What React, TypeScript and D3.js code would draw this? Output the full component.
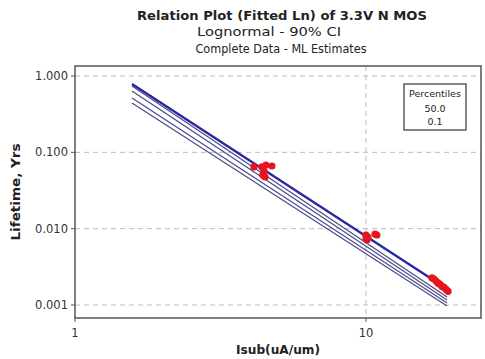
import React from 'react';
import * as d3 from 'd3';

// fitted lines, lifetime at the two ends of the Isub range
const lineIsub = [1.57, 19.0];
const medianLife = [0.786, 0.00162];
const bound1Life = [0.739, 0.00127];
const bound2Life = [0.636, 0.00116];
const bound3Life = [0.515, 0.00106];
const bound4Life = [0.443, 0.00097];

// test data
const pointIsub = [4.12, 4.39, 4.53, 4.75, 4.46, 4.42, 4.5,
  10.0, 10.08, 10.16, 10.0, 10.74, 10.9,
  16.86, 17.13, 17.41, 17.69, 17.97, 18.26, 18.55, 18.85, 19.15];
const pointLife = [0.0643, 0.0643, 0.0682, 0.0662, 0.0569, 0.0505, 0.0475,
  0.00826, 0.0071, 0.00778, 0.00754, 0.0085, 0.00826,
  0.00226, 0.00219, 0.00206, 0.00193, 0.00187, 0.00175, 0.0017, 0.0016, 0.00151];

const yTicks = [1, 0.1, 0.01, 0.001];
const xTicks = [1, 10];
const legendItems = ['50.0', '0.1'];

const W = 485, H = 359;
const left = 75, right = 481, top = 66, bottom = 318;

export default function App() {
  const x = d3.scaleLog().domain([1, 24.85]).range([left, right]);
  const y = d3.scaleLog().domain([1, 0.001]).range([76, 305]);
  const line = d3.line<[number, number]>().x(d => x(d[0])).y(d => y(d[1]));
  const mk = (vals: number[]) => line(lineIsub.map((v, i) => [v, vals[i]] as [number, number])) || '';
  const thin = [bound1Life, bound2Life, bound3Life, bound4Life];
  const font = '"DejaVu Sans", Tahoma, sans-serif';
  const cx = (left + right) / 2;

  return (
    <svg width={W} height={H} style={{ position: 'absolute', left: 0, top: 0, background: '#fff' }} fontFamily={font}>
      <text x={282} y={20} textAnchor="middle" fontSize={13} fontWeight="bold" fill="#222"
        textLength={290} lengthAdjust="spacingAndGlyphs">Relation Plot (Fitted Ln) of 3.3V N MOS</text>
      <text x={269} y={36} textAnchor="middle" fontSize={13} fill="#222"
        textLength={144} lengthAdjust="spacingAndGlyphs">Lognormal - 90% CI</text>
      <text x={281} y={53} textAnchor="middle" fontSize={12.5} fill="#222"
        textLength={171} lengthAdjust="spacingAndGlyphs">Complete Data - ML Estimates</text>

      {/* grid */}
      {yTicks.map(t => (
        <line key={'gy' + t} x1={left} x2={right} y1={y(t)} y2={y(t)} stroke="#bbb" strokeDasharray="5,4" />
      ))}
      {xTicks.filter(t => t > 1).map(t => (
        <line key={'gx' + t} x1={x(t)} x2={x(t)} y1={top} y2={bottom} stroke="#bbb" strokeDasharray="5,4" />
      ))}

      {/* fitted lines */}
      {thin.map((l, i) => (
        <path key={i} d={mk(l)} fill="none" stroke="#4a4a8c" strokeWidth={1.2} />
      ))}
      <path d={mk(medianLife)} fill="none" stroke="#2828a0" strokeWidth={2.4} />

      {pointIsub.map((v, i) => (
        <circle key={i} cx={x(v)} cy={y(pointLife[i])} r={3.6} fill="#e8141c" />
      ))}

      {/* frame */}
      <rect x={left} y={top} width={right - left} height={bottom - top} fill="none" stroke="#555" strokeWidth={1.5} />
      {yTicks.map(t => (
        <g key={'ty' + t}>
          <line x1={left - 4} x2={left} y1={y(t)} y2={y(t)} stroke="#555" />
          <text x={left - 7} y={y(t) + 4} textAnchor="end" fontSize={11.5} fill="#333">{t.toFixed(3)}</text>
        </g>
      ))}
      {xTicks.map(t => (
        <g key={'tx' + t}>
          <line x1={x(t)} x2={x(t)} y1={bottom} y2={bottom + 4} stroke="#555" />
          <text x={x(t)} y={337} textAnchor="middle" fontSize={11.5} fill="#333">{t}</text>
        </g>
      ))}

      <text x={cx} y={354} textAnchor="middle" fontSize={12.5} fontWeight="bold" fill="#222"
        textLength={84} lengthAdjust="spacingAndGlyphs">Isub(uA/um)</text>
      <text transform={`translate(20,${(top + bottom) / 2}) rotate(-90)`} textAnchor="middle" fontSize={12.5}
        fontWeight="bold" fill="#222" textLength={97} lengthAdjust="spacingAndGlyphs">Lifetime, Yrs</text>

      {/* legend */}
      <rect x={404} y={84} width={62} height={46} fill="#fff" stroke="#333" strokeWidth={1.2} />
      <text x={435} y={97} textAnchor="middle" fontSize={9.5} fill="#222">Percentiles</text>
      {legendItems.map((s, i) => (
        <text key={s} x={435} y={112 + i * 13} textAnchor="middle" fontSize={9.5} fill="#222">{s}</text>
      ))}
    </svg>
  );
}
